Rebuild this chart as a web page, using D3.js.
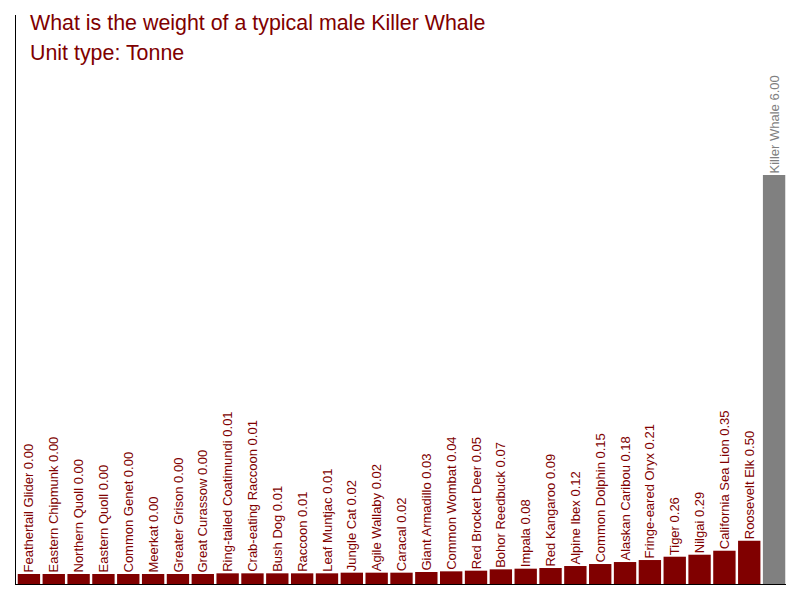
<!DOCTYPE html>
<html>
<head>
<meta charset="utf-8">
<script src="https://cdn.jsdelivr.net/npm/d3@7"></script>
<style>
  body { margin: 0; background: #fff; }
  svg { display: block; font-family: "Liberation Sans", Arial, sans-serif; }
</style>
</head>
<body>
<div id="chart"></div>
<script>
// Chart data
const animals = [
    "Feathertail Glider", "Eastern Chipmunk", "Northern Quoll", "Eastern Quoll",
    "Common Genet", "Meerkat", "Greater Grison", "Great Curassow",
    "Ring-tailed Coatimundi", "Crab-eating Raccoon", "Bush Dog", "Raccoon",
    "Leaf Muntjac", "Jungle Cat", "Agile Wallaby", "Caracal",
    "Giant Armadillo", "Common Wombat", "Red Brocket Deer", "Bohor Reedbuck",
    "Impala", "Red Kangaroo", "Alpine Ibex", "Common Dolphin",
    "Alaskan Caribou", "Fringe-eared Oryx", "Tiger", "Nilgai",
    "California Sea Lion", "Roosevelt Elk", "Killer Whale"
];
const weights = [
    0.00, 0.00, 0.00, 0.00,
    0.00, 0.00, 0.00, 0.00,
    0.01, 0.01, 0.01, 0.01,
    0.01, 0.02, 0.02, 0.02,
    0.03, 0.04, 0.05, 0.07,
    0.08, 0.09, 0.12, 0.15,
    0.18, 0.21, 0.26, 0.29,
    0.35, 0.50, 6.00
];
const highlight = "Killer Whale";
const titleLines = ["What is the weight of a typical male Killer Whale", "Unit type: Tonne"];

const W = 800, H = 600;
const axisX = 15, axisTop = 15, baseY = 584;
const minBar = 10;   // every bar gets a small stub so zero values still show

const data = animals.map((name, i) => ({ name, value: weights[i] }));

const svg = d3.select("#chart")
    .append("svg")
    .attr("width", W)
    .attr("height", H);

const x = d3.scaleBand()
    .domain(animals)
    .range([16.5, 786.5])
    .paddingInner(0.1)
    .paddingOuter(0.05);

const y = d3.scaleLinear()
    .domain([0, d3.max(weights)])
    .range([baseY - minBar, 175]);

const dark = "#800000", grey = "#808080";

// bars
svg.append("g")
    .selectAll("rect")
    .data(data)
    .join("rect")
        .attr("x", d => x(d.name))
        .attr("y", d => y(d.value))
        .attr("width", x.bandwidth())
        .attr("height", d => baseY - y(d.value))
        .attr("fill", d => d.name == highlight ? grey : dark);

// rotated labels sitting on top of each bar
svg.append("g")
    .selectAll("text")
    .data(data)
    .join("text")
        .attr("transform", d => `translate(${x(d.name) + x.bandwidth() / 2}, ${y(d.value) - 1.5}) rotate(-90)`)
        .attr("dy", "0.35em")
        .attr("font-size", "13px")
        .attr("fill", d => d.name == highlight ? grey : dark)
        .text(d => `${d.name} ${d.value.toFixed(2)}`);

// axis lines
svg.append("line")
    .attr("x1", axisX + 0.5).attr("x2", axisX + 0.5)
    .attr("y1", axisTop).attr("y2", baseY + 1)
    .attr("stroke", "#000");

svg.append("line")
    .attr("x1", axisX).attr("x2", 786)
    .attr("y1", baseY + 0.5).attr("y2", baseY + 0.5)
    .attr("stroke", "#000");

// title
svg.append("g")
    .selectAll("text")
    .data(titleLines)
    .join("text")
        .attr("x", 30)
        .attr("y", (d, i) => 30 + i * 30)
        .attr("font-size", "21.4px")
        .attr("fill", dark)
        .text(d => d);
</script>
</body>
</html>
